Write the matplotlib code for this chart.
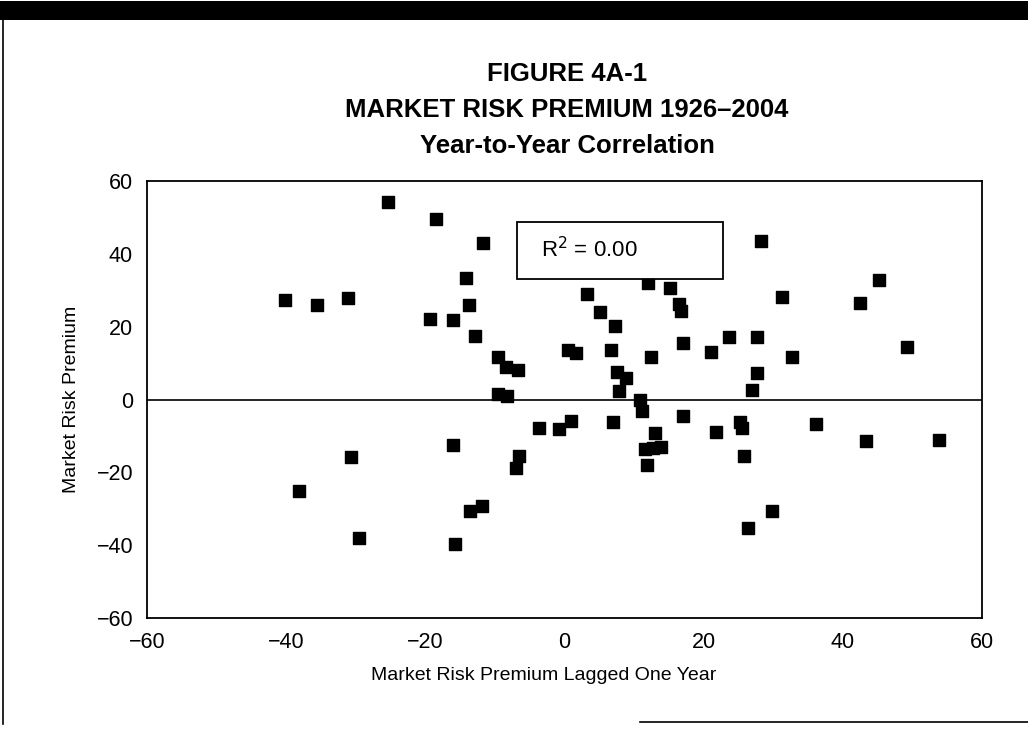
import numpy as np
import matplotlib
matplotlib.use("Agg")
import matplotlib.pyplot as plt
from matplotlib.patches import Rectangle

# Market risk premium (%), each year plotted against the previous year
lagged = [-40.1, -35.5, -31.1, -25.4, -18.5, -11.7, -14.1, -13.7, -19.3, -16.0,
          -12.8, -9.6, -8.4, -6.7, -9.5, -8.3, 0.5, 1.7, 3.3, 5.1,
          7.3, 6.7, 7.5, 8.8, 7.8, 10.8, 11.1, 12.0, 15.1, 16.5,
          16.7, 12.5, 17.1, 28.2, 45.2, 31.3, 42.4, 21.1, 23.7, 27.7,
          32.7, 27.7, 27.0, 49.2, -38.2, -30.7, -29.5, -16.0, -3.6, -0.8,
          0.9, 6.9, 13.0, 11.6, 12.7, 13.9, 11.9, -6.5, -6.9, -11.9,
          -13.6, -15.7, 17.1, 21.8, 25.2, 25.5, 25.8, 36.1, 43.4, 53.8,
          29.8, 26.3]
current = [27.3, 25.9, 27.9, 54.1, 49.5, 43.0, 33.4, 26.0, 22.1, 21.7,
           17.4, 11.6, 8.8, 8.1, 1.6, 1.0, 13.5, 12.8, 29.0, 24.0,
           20.1, 13.7, 7.6, 6.0, 2.4, -0.1, -3.2, 32.1, 30.5, 26.1,
           24.2, 11.8, 15.5, 43.6, 32.9, 28.1, 26.6, 13.1, 17.2, 17.2,
           11.6, 7.3, 2.5, 14.3, -25.0, -15.8, -38.0, -12.4, -7.8, -8.2,
           -5.9, -6.3, -9.3, -13.7, -13.3, -13.0, -18.1, -15.5, -18.9, -29.2,
           -30.7, -39.7, -4.5, -8.9, -6.2, -7.8, -15.6, -6.8, -11.5, -11.2,
           -30.5, -35.3]
ticks = [-60, -40, -20, 0, 20, 40, 60]
r_squared = 0.00

plt.rcParams["font.family"] = ["Liberation Sans", "DejaVu Sans"]

W, H = 1028, 731
fig = plt.figure(figsize=(W / 100, H / 100), dpi=100)
fig.patch.set_facecolor("white")

# page furniture: heavy rule on top, thin rules left and bottom-right
fig.add_artist(Rectangle((0, 1 - 20 / H), 1, 19 / H, transform=fig.transFigure,
                         color="black", lw=0))
fig.add_artist(plt.Line2D([3 / W, 3 / W], [0.01, 1 - 20 / H], transform=fig.transFigure,
                          color="black", lw=1.2))
fig.add_artist(plt.Line2D([640 / W, 1], [1 - 722 / H, 1 - 722 / H],
                          transform=fig.transFigure, color="black", lw=1.2))

for yy, line in [(74, "FIGURE 4A-1"),
                 (110, "MARKET RISK PREMIUM 1926\u20132004"),
                 (146, "Year-to-Year Correlation")]:
    fig.text(567 / W, 1 - yy / H, line, ha="center", va="center",
             fontsize=18.5, fontweight="bold")

ax = fig.add_axes([147 / W, 1 - 618 / H, 835 / W, 437 / H])
ax.scatter(lagged, current, marker="s", s=66, color="black", zorder=3)
ax.axhline(0, color="black", lw=1.2, zorder=2)

ax.set_xlim(-60, 60)
ax.set_ylim(-60, 60)
ax.set_xticks(ticks)
ax.set_yticks(ticks)
ax.set_xticklabels([f"\u2212{-t}" if t < 0 else str(t) for t in ticks])
ax.set_yticklabels([f"\u2212{-t}" if t < 0 else str(t) for t in ticks])
ax.tick_params(length=0, labelsize=15.5, pad=10)
for s in ax.spines.values():
    s.set_linewidth(1.3)

ax.set_xlabel("Market Risk Premium Lagged One Year", fontsize=14)
ax.xaxis.set_label_coords(0.475, -0.112)
ax.set_ylabel("Market Risk Premium", fontsize=14, labelpad=12)

# regression fit box
ax.add_patch(Rectangle((0.443, 0.776), 0.247, 0.130, transform=ax.transAxes,
                       fill=True, facecolor="white", edgecolor="black",
                       lw=1.3, zorder=4))
ax.text(0.472, 0.842, f"R$^2$ = {r_squared:.2f}", transform=ax.transAxes,
        ha="left", va="center", fontsize=16, zorder=5)

fig.savefig("out.png", dpi=100)
